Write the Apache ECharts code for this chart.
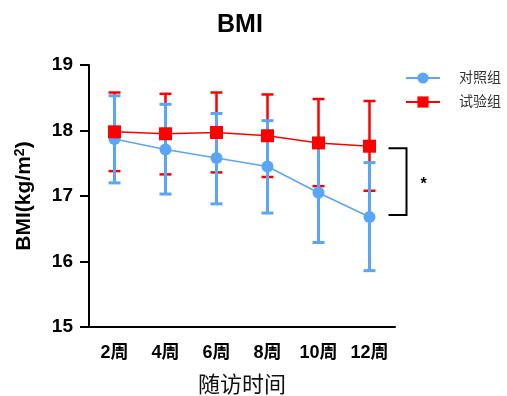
<!DOCTYPE html>
<html>
<head>
<meta charset="utf-8">
<script src="https://cdn.jsdelivr.net/npm/echarts@6/dist/echarts.min.js"></script>
<style>
  html, body { margin: 0; padding: 0; background: #fff; }
  #chart { width: 507px; height: 396px; }
</style>
</head>
<body>
<div id="chart"></div>
<script>
const weeks = ['2周', '4周', '6周', '8周', '10周', '12周'];
const yTicks = [15, 16, 17, 18, 19];

// 对照组
const ctrlMean = [17.87, 17.71, 17.58, 17.45, 17.05, 16.68];
const ctrlLow  = [17.20, 17.03, 16.88, 16.74, 16.29, 15.86];
const ctrlHigh = [18.53, 18.40, 18.26, 18.15, 17.80, 17.51];

// 试验组
const testMean = [17.98, 17.95, 17.97, 17.92, 17.81, 17.76];
const testLow  = [17.38, 17.33, 17.36, 17.29, 17.15, 17.08];
const testHigh = [18.58, 18.56, 18.58, 18.55, 18.48, 18.45];

const blue = '#5aa5f7';
const red = '#ff0000';
const font = 'Liberation Sans, Arial, Noto Sans CJK SC, sans-serif';

function errData(low, high) {
    return low.map((v, i) => [i, v, high[i]]);
}

function errRender(color, width) {
    return function (params, api) {
        const x = api.value(0);
        const lo = api.coord([x, api.value(1)]);
        const hi = api.coord([x, api.value(2)]);
        const half = 6;
        const style = { stroke: color, lineWidth: width };
        return {
            type: 'group',
            children: [
                { type: 'line', shape: { x1: lo[0], y1: lo[1], x2: hi[0], y2: hi[1] }, style: style },
                { type: 'line', shape: { x1: hi[0] - half, y1: hi[1], x2: hi[0] + half, y2: hi[1] }, style: style },
                { type: 'line', shape: { x1: lo[0] - half, y1: lo[1], x2: lo[0] + half, y2: lo[1] }, style: style }
            ]
        };
    };
}

const last = weeks.length - 1;

const chartDom = document.getElementById('chart');
const myChart = echarts.init(chartDom);

const option = {
    animation: false,
    title: {
        text: 'BMI',
        left: 212,
        top: 8,
        textStyle: { fontFamily: font, fontSize: 25, fontWeight: 'bold', color: '#000' }
    },
    legend: {
        orient: 'vertical',
        left: 400,
        top: 66,
        itemWidth: 34,
        itemHeight: 14,
        itemGap: 10,
        data: ['对照组', '试验组'],
        textStyle: { fontFamily: font, fontSize: 14, color: '#333', padding: [0, 0, 0, 14] }
    },
    grid: { left: 89, right: 112, top: 65, bottom: 69, containLabel: false, outerBoundsMode: 'none' },
    xAxis: {
        type: 'category',
        data: weeks,
        name: '随访时间',
        nameLocation: 'middle',
        nameGap: 48,
        nameTextStyle: { fontFamily: font, fontSize: 22, color: '#111' },
        axisLine: { lineStyle: { color: '#000', width: 2 } },
        axisTick: { alignWithLabel: true, length: 9, lineStyle: { color: '#000', width: 2 } },
        axisLabel: { fontFamily: font, fontSize: 18, fontWeight: 'bold', color: '#000', margin: 17 }
    },
    yAxis: {
        type: 'value',
        min: yTicks[0],
        max: yTicks[yTicks.length - 1],
        interval: 1,
        name: 'BMI(kg/m{sup|2})',
        nameLocation: 'middle',
        nameGap: 53,
        nameTextStyle: {
            fontFamily: font, fontSize: 21, fontWeight: 'bold', color: '#000',
            rich: {
                sup: { fontFamily: font, fontSize: 14, fontWeight: 'bold', color: '#000', verticalAlign: 'top', padding: [0, 0, 9, 0] }
            }
        },
        splitLine: { show: false },
        axisLine: { show: true, lineStyle: { color: '#000', width: 2 } },
        axisTick: { show: true, length: 9, lineStyle: { color: '#000', width: 2 } },
        axisLabel: { fontFamily: font, fontSize: 19, fontWeight: 'bold', color: '#000', margin: 16 }
    },
    series: [
        {
            type: 'custom',
            name: 'err-test',
            data: errData(testLow, testHigh),
            renderItem: errRender(red, 2.5),
            z: 2
        },
        {
            type: 'custom',
            name: 'err-ctrl',
            data: errData(ctrlLow, ctrlHigh),
            renderItem: errRender(blue, 3),
            z: 3
        },
        {
            type: 'line',
            name: '对照组',
            data: ctrlMean,
            color: blue,
            symbol: 'circle',
            symbolSize: 12,
            lineStyle: { width: 1.5 },
            z: 4
        },
        {
            type: 'line',
            name: '试验组',
            data: testMean,
            color: red,
            symbol: 'rect',
            symbolSize: 13,
            lineStyle: { width: 1.5 },
            z: 5
        },
        {
            type: 'custom',
            name: 'sig',
            clip: false,
            silent: true,
            data: [[last, testMean[last], ctrlMean[last]]],
            renderItem: function (params, api) {
                const x = api.value(0);
                const top = api.coord([x, api.value(1)]);
                const bot = api.coord([x, api.value(2)]);
                const x1 = top[0] + 19, x2 = top[0] + 37;
                return {
                    type: 'group',
                    children: [
                        {
                            type: 'polyline',
                            shape: { points: [[x1, top[1] + 2], [x2, top[1] + 2], [x2, bot[1] - 2], [x1, bot[1] - 2]] },
                            style: { stroke: '#000', lineWidth: 2, fill: 'none' }
                        },
                        {
                            type: 'text',
                            style: {
                                text: '*', x: x2 + 17, y: (top[1] + bot[1]) / 2 + 3,
                                align: 'center', verticalAlign: 'middle',
                                font: 'bold 16px ' + font, fill: '#000'
                            }
                        }
                    ]
                };
            },
            z: 6
        }
    ]
};

myChart.setOption(option);
</script>
</body>
</html>
